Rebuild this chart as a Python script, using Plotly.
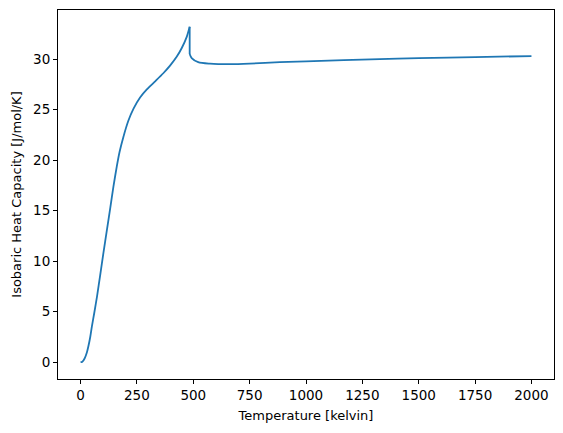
import plotly.graph_objects as go

# values
rise_t = [0, 8, 18, 28, 35, 43, 50, 61, 73, 87, 102, 117, 132, 146, 161, 173,
          190, 212, 235, 264, 294, 331, 367, 397, 427, 449, 471, 484]
rise_cp = [0, 0.05, 0.37, 0.96, 1.6, 2.5, 3.5, 4.9, 6.5, 8.6, 10.9, 13.1, 15.3,
           17.4, 19.4, 20.8, 22.3, 23.9, 25.1, 26.2, 27.0, 27.8, 28.6, 29.35,
           30.25, 31.1, 32.2, 33.2]
drop_t = [484, 484]
drop_cp = [33.2, 30.5]
tail_t = [484, 493, 522, 574, 663, 750, 884, 1000, 1327, 1500, 1750, 2000]
tail_cp = [30.5, 30.1, 29.7, 29.55, 29.5, 29.55, 29.7, 29.78, 30.0, 30.1, 30.2, 30.3]
x_ticks = [0, 250, 500, 750, 1000, 1250, 1500, 1750, 2000]
y_ticks = [0, 5, 10, 15, 20, 25, 30]

BLUE = "#1f77b4"

fig = go.Figure()
for xs, ys, shape in [(rise_t, rise_cp, "spline"), (drop_t, drop_cp, "linear"),
                      (tail_t, tail_cp, "spline")]:
    fig.add_trace(go.Scatter(x=xs, y=ys, mode="lines",
                             line=dict(color=BLUE, width=1.8, shape=shape, smoothing=0.8),
                             showlegend=False))

axis_style = dict(showline=True, linecolor="black", linewidth=1, mirror=True,
                  showgrid=False, zeroline=False, ticks="outside", ticklen=4,
                  tickcolor="black", tickwidth=1, automargin=False,
                  tickfont=dict(size=13.5, color="black"))

fig.update_xaxes(range=[-100, 2100], tickvals=x_ticks,
                 title=dict(text="Temperature [kelvin]", font=dict(size=13, color="black"),
                            standoff=8),
                 **axis_style)
fig.update_yaxes(range=[-1.66, 34.86], tickvals=y_ticks,
                 title=dict(text="Isobaric Heat Capacity [J/mol/K]",
                            font=dict(size=13, color="black"), standoff=8),
                 **axis_style)

# page body adds an 8px offset, margins compensate for it
fig.update_layout(
    width=563, height=433,
    margin=dict(l=50, r=17, t=2, b=62),
    paper_bgcolor="white", plot_bgcolor="white",
    font=dict(family="DejaVu Sans", size=13, color="black"),
)

fig.write_html("out.html")
